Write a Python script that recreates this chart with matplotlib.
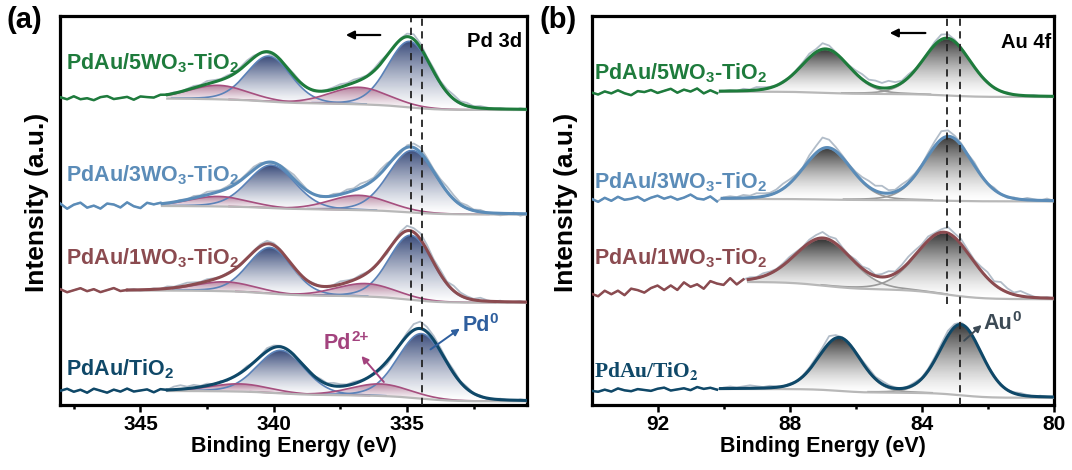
import numpy as np
import matplotlib
matplotlib.use("Agg")
import matplotlib.pyplot as plt
from matplotlib.colors import LinearSegmentedColormap
from matplotlib.patches import PathPatch

plt.rcParams['font.family'] = ['Liberation Sans', 'DejaVu Sans']
plt.rcParams['font.weight'] = 'bold'
plt.rcParams['mathtext.fontset'] = 'custom'
plt.rcParams['mathtext.rm'] = 'Liberation Sans:bold'
plt.rcParams['mathtext.bf'] = 'Liberation Sans:bold'

# ---------------- data ----------------
labels = [r'PdAu/TiO$_\mathbf{2}$', r'PdAu/1WO$_\mathbf{3}$-TiO$_\mathbf{2}$',
          r'PdAu/3WO$_\mathbf{3}$-TiO$_\mathbf{2}$', r'PdAu/5WO$_\mathbf{3}$-TiO$_\mathbf{2}$']
colors = ['#0f4868', '#8b4b50', '#5b8cb8', '#1e7b3c']

# Pd 3d panel (binding energy eV, intensity a.u.)
pd_range = (348.0, 330.5)
pd_fit_hi = [344.0, 345.5, 344.2, 344.0]
pd_far = [14.0, 114.5, 199.0, 306.4]
pd_bg_hi = [14.0, 114.5, 199.0, 306.4]
pd_bg_lo = [3.7, 102.3, 190.5, 295.0]
pd_split = 5.28
pd0_pos = [334.45, 334.85, 334.80, 334.90]
pd0_h52 = [65.0, 64.5, 62.0, 66.0]
pd0_h32 = [43.0, 46.0, 43.0, 45.5]
pd0_fwhm = [2.1, 1.95, 2.1, 1.95]
pd2_pos = [336.0, 336.55, 336.8, 336.8]
pd2_h52 = [12.0, 13.0, 14.8, 17.0]
pd2_h32 = [7.7, 9.4, 10.0, 14.0]
pd2_fwhm = [2.6, 2.6, 2.6, 2.6]
pd_noise = [
    [0, 2, -1, 1, -2, 2, 0, -2, 1, -1, 2, -1, 0, 1, -2, 1, 0,
     3, 4, 2, 3, 1, 2, 0, 1, -1, 0,
     1, 2, 0, 1, 3, 2, 1, -1, -2, 0,
     1, 0, 2, 1, 3, 2, 1, 2, 1, 0,
     -1, -2, -3, -2, 1, 3, 6, 7, 5, 4,
     3, 2, 3, 1, 2, 0, 1, -1, 0, 1,
     0, -1, 1, 0],
    [1, -2, 0, 2, -1, 1, -2, 0, 2, -1,
     0, 1, -1, 0, 1, 0, 2,
     1, 2, 3, 2, 1, 2, 1, 0, 1, 0,
     -1, 0, 1, 2, 3, 2, 1, 0, -1, -2,
     0, 1, 0, -1, 1, 3, 2, 1, 2, 1,
     -1, 0, -2, 1, 3, 5, 4, 6, 5, 3,
     4, 2, 5, 3, 2, 1, 3, 1, 0, 1,
     -1, 0, 1, -1],
    [2, -3, 1, 3, -2, 0, -3, 2, 1, -2, 3, -1, -3, 2, 0,
     1, -1,
     0, 1, 0, 2, 1, 3, 2, 1, 2, 3,
     1, 2, 3, 2, 0, -1, 1, 2, 4, 3,
     1, 0, -1, 0, 2, 1, 3, 2, 4, 3,
     2, 4, 3, -1, -2, 2, 4, 5, 3, 2,
     3, 5, 4, 2, 3, 1, 2, 0, -1, -2,
     -1, 1, -2, 0],
    [1, -1, 2, -1, 0, -2, 1, 2, -1, 0, 1, -2, 1, 0, -1, 1, 0,
     1, 0, 1, 2, 1, 3, 2, 1, 2, 1,
     2, 3, 2, 0, -1, -2, 0, 1, 2, 1,
     0, -1, 0, 1, 2, 3, 2, 3, 2, 1,
     2, 3, 1, -1, 1, 3, 5, 4, 2, 3,
     2, 3, 4, 2, 3, 1, 2, 1, 0, 1,
     0, -1, 1, 0],
]

# Au 4f panel
au_range = (94.0, 80.0)
au_fit_hi = [90.1, 89.26, 90.05, 90.1]
au_far = [14.0, 111.0, 206.0, 312.3]
au_bg_hi = [16.0, 123.0, 206.0, 313.3]
au_bg_lo = [7.2, 105.8, 203.6, 308.0]
au_split = 3.68
au_pos = [82.81, 83.29, 83.18, 83.23]
au_h72 = [70.5, 61.5, 64.0, 57.0]
au_h52 = [53.0, 47.0, 51.5, 43.5]
au_fwhm = [1.5, 2.0, 1.7, 1.7]
au_noise = [
    [0, -1, 1, -1, 2, 0, -1, 1, 0, -1, 1, 2, -1, 0, 1, -1, 2, 0, 1, -1,
     1, 2, 1, 2, 3, 2, 1, 2, 1, 0,
     1, 0, 1, 2, 3, 4, 7, 3, 1, 0,
     1, 2, 3, 2, 3, 2, 1, 0, 1, 2,
     1, 2, 3, 4, 5, 3, 2, 1, 0, 1,
     0, 1, -1, 0, 1, 2, 1, 0, 1, 0, -1],
    [0, -3, 2, -2, 1, -4, 2, 0, -3, 1, 3, -2, 2, -3, 4, -1, 1, -4, 3, 0, -2, 4, -3, 1,
     2, 1, 3, 2, 1, 2,
     3, 2, 1, 3, 4, 6, 3, 5, 2, 1,
     3, 2, 4, 1, 3, 5, 2, 4, 6, 5,
     3, 4, 2, 3, 6, 4, 5, 3, 2, 4,
     6, 3, 7, 4, 2, 5, 3, 1, 0, 1, 0],
    [0, -3, 1, -2, 2, -1, 0, 2, -2, 1, 3, 0, 2, -1, 1, 4, 0, -1, 2, -3,
     1, 2, 1, 3, 2, 4, 3, 2, 3, 5,
     4, 2, 1, 5, 7, 11, 8, 4, 2, 1,
     2, 4, 6, 5, 7, 3, 2, 4, 3, 2,
     1, 3, 5, 8, 6, 3, 2, 1, 3, 1,
     0, 2, 0, -1, 1, 0, 2, 1, 0, 2, 0],
    [0, -2, 1, -1, 2, -1, -3, 1, 0, 2, -1, 1, 3, -1, 2, 0, 3, -2, 1, -2,
     0, 1, 0, 2, 1, 3, 2, 1, 0, 1,
     0, 1, 2, 4, 3, 6, 4, 1, 0, 1,
     3, 5, 4, 6, 5, 7, 4, 2, 3, 1,
     0, 1, 3, 5, 4, 2, 1, 0, -1, 0,
     1, -1, 0, 1, 0, -1, 0, 1, 0, -1, 0],
]

# ---------------- helpers ----------------
def pv(E, c, h, w, eta=0.15):
    x = (E - c) / w
    return h * ((1 - eta) * np.exp(-4 * np.log(2) * x ** 2) + eta / (1 + 4 * x ** 2))


def baseline(E, total, fit_hi, far, hi, lo, Emax):
    mask = E <= fit_hi
    cum = np.cumsum(np.where(mask, total, 0.0))
    S = cum / cum[mask][-1]
    bg = lo + (hi - lo) * np.clip(S, 0, 1)
    left = hi + (far - hi) * (E - fit_hi) / (Emax - fit_hi)
    return np.where(mask, bg, left)


def gradient_fill(ax, x, y1, y2, color, alpha=0.95, power=1.3):
    poly = ax.fill_between(x, y1, y2, facecolor='none', edgecolor='none')
    path = poly.get_paths()[0]
    patch = PathPatch(path, transform=ax.transData, facecolor='none', edgecolor='none')
    ax.add_patch(patch)
    cmap = LinearSegmentedColormap.from_list('g', ['#ffffff', color])
    grad = np.linspace(0, 1, 256).reshape(-1, 1) ** power
    im = ax.imshow(grad, cmap=cmap, aspect='auto', origin='lower', alpha=alpha,
                   extent=[x.min(), x.max(), y1.min(), y2.max()], zorder=1)
    im.set_clip_path(patch)


def draw_panel(ax, rng, n, fit_hi, far, bg_hi, bg_lo, comps, noise, fill_colors,
               edge_colors, power):
    Emax, Emin = rng
    Ef = np.linspace(Emin, Emax, 1600)
    Ec = np.linspace(Emax, Emin, len(noise[0]))
    for i in range(n):
        parts = [pv(Ef, *c) for c in comps[i]]
        total = np.sum(parts, axis=0)
        bg = baseline(Ef, total, fit_hi[i], far[i], bg_hi[i], bg_lo[i], Emax)
        model = bg + total
        raw = np.interp(Ec, Ef, model) + np.array(noise[i], float)
        fm = Ef <= fit_hi[i]
        for k, p in enumerate(parts):
            m = fm & (p > 0.01 * p.max())
            gradient_fill(ax, Ef[m], bg[m], bg[m] + p[m], fill_colors[k], power=power)
            ax.plot(Ef[m], bg[m] + p[m], color=edge_colors[k], lw=1.2, zorder=2)
        ax.plot(Ec, raw, color='#aab6c3', lw=1.3, zorder=3, alpha=0.9)
        ax.plot(Ef[fm], bg[fm], color='#b8b8b8', lw=1.6, zorder=3)
        rm = Ec >= fit_hi[i]
        ax.plot(Ec[rm], raw[rm], color=colors[i], lw=1.8, zorder=4)
        ax.plot(Ef[fm], model[fm], color=colors[i], lw=2.2, zorder=5)


def style(ax, rng, major, minor):
    ax.set_xlim(*rng)
    ax.set_ylim(0, 388.5)
    ax.set_yticks([])
    ax.set_xticks(major)
    ax.set_xticks(minor, minor=True)
    for s in ax.spines.values():
        s.set_linewidth(2.3)
    ax.tick_params(axis='x', which='major', direction='out', length=5, width=1.8,
                   labelsize=15, pad=2)
    ax.tick_params(axis='x', which='minor', direction='out', length=3, width=1.8)
    for t in ax.get_xticklabels():
        t.set_fontweight('bold')
    ax.set_xlabel('Binding Energy (eV)', fontsize=15.5, fontweight='bold', labelpad=2)


fig = plt.figure(figsize=(10.72, 4.70), dpi=100)
axa = fig.add_axes([0.0564, 0.1383, 0.4352, 0.8266])
axb = fig.add_axes([0.5518, 0.1383, 0.4310, 0.8266])

# ---- panel (a)
pd_comps = []
for i in range(4):
    pd_comps.append([
        (pd0_pos[i], pd0_h52[i], pd0_fwhm[i]),
        (pd0_pos[i] + pd_split, pd0_h32[i], pd0_fwhm[i]),
        (pd2_pos[i], pd2_h52[i], pd2_fwhm[i]),
        (pd2_pos[i] + pd_split, pd2_h32[i], pd2_fwhm[i]),
    ])
draw_panel(axa, pd_range, 4, pd_fit_hi, pd_far, pd_bg_hi, pd_bg_lo, pd_comps, pd_noise,
           ['#2f4274', '#2f4274', '#b07a98', '#b07a98'],
           ['#5b82b8', '#5b82b8', '#a64f7f', '#a64f7f'], 1.3)
style(axa, pd_range, [345, 340, 335], [347.5, 342.5, 337.5, 332.5])

# ---- panel (b)
au_comps = []
for i in range(4):
    au_comps.append([
        (au_pos[i], au_h72[i], au_fwhm[i]),
        (au_pos[i] + au_split, au_h52[i], au_fwhm[i]),
    ])
draw_panel(axb, au_range, 4, au_fit_hi, au_far, au_bg_hi, au_bg_lo, au_comps, au_noise,
           ['#2a2a2a', '#2a2a2a'], ['#9a9a9a', '#9a9a9a'], 1.5)
style(axb, au_range, [92, 88, 84, 80], [90, 86, 82])

# y labels
fig.text(37 / 1072, 1 - 202 / 470, 'Intensity (a.u.)', rotation=90, ha='center', va='center',
         fontsize=19, fontweight='bold')
fig.text(566 / 1072, 1 - 202 / 470, 'Intensity (a.u.)', rotation=90, ha='center', va='center',
         fontsize=19, fontweight='bold')

# dashed reference lines
for ax, (x1, x2), yend in [(axa, (334.85, 334.42), 92), (axb, (83.22, 82.85), 101)]:
    ax.plot([x1, x1], [yend, 387], ls=(0, (4, 3)), color='#222222', lw=1.3, zorder=6)
    ax.plot([x2, x2], [0, 387], ls=(0, (4, 3)), color='#222222', lw=1.3, zorder=6)

# shift arrows
axa.annotate('', xy=(337.4, 370), xytext=(335.9, 370),
             arrowprops=dict(arrowstyle='-|>', color='black', lw=1.6, mutation_scale=12))
axb.annotate('', xy=(85.05, 372), xytext=(83.8, 372),
             arrowprops=dict(arrowstyle='-|>', color='black', lw=1.6, mutation_scale=12))

# sample labels
pd_lab_y = [30, 140.4, 223.5, 336.0]
au_lab_y = [28, 140.4, 216.4, 325.4]
for i in range(4):
    axa.text(347.8, pd_lab_y[i], labels[i], color=colors[i], fontsize=15.5,
             fontweight='bold', ha='left', va='baseline', zorder=7)
    if i == 0:
        axb.text(93.92, au_lab_y[i], r'PdAu/TiO$_\mathbf{2}$', color=colors[i], fontsize=15.5,
                 fontweight='bold', family='Liberation Serif', math_fontfamily='stix',
                 ha='left', va='baseline', zorder=7)
    else:
        axb.text(93.92, au_lab_y[i], labels[i], color=colors[i], fontsize=15.5,
                 fontweight='bold', ha='left', va='baseline', zorder=7)

# core level titles
axa.text(0.989, 0.922, 'Pd 3d', transform=axa.transAxes, ha='right', va='baseline',
         fontsize=14.5, fontweight='bold')
axb.text(0.994, 0.918, 'Au 4f', transform=axb.transAxes, ha='right', va='baseline',
         fontsize=14.5, fontweight='bold')

# species annotations
def species(ax, x, y, base, sup, color):
    t = ax.text(x, y, base, color=color, fontsize=15.5, fontweight='bold',
                ha='center', va='center', zorder=8)
    ax.annotate(sup, xy=(0.99, 0.5), xycoords=t, ha='left', va='bottom', color=color,
                fontsize=11, fontweight='bold', zorder=8)

species(axa, 337.6, 61, 'Pd', '2+', '#a3437e')
axa.annotate('', xy=(336.71, 49), xytext=(335.87, 23),
             arrowprops=dict(arrowstyle='-|>', color='#a3437e', lw=1.4, mutation_scale=10,
                             shrinkA=0, shrinkB=0), zorder=8)
species(axa, 332.4, 79, 'Pd', '0', '#2f5f9e')
axa.annotate('', xy=(333.02, 76.4), xytext=(334.12, 55.6),
             arrowprops=dict(arrowstyle='-|>', color='#2f5f9e', lw=1.4, mutation_scale=10,
                             shrinkA=0, shrinkB=0), zorder=8)
species(axb, 81.68, 81, 'Au', '0', '#3c4a55')
axb.annotate('', xy=(82.18, 80), xytext=(82.71, 64.3),
             arrowprops=dict(arrowstyle='-|>', color='#3c4a55', lw=1.4, mutation_scale=10,
                             shrinkA=0, shrinkB=0), zorder=8)

# panel letters
fig.text(0.0065, 0.987, '(a)', fontsize=21, fontweight='bold', ha='left', va='top')
fig.text(0.503, 0.987, '(b)', fontsize=21, fontweight='bold', ha='left', va='top')

fig.savefig('out.png', dpi=100)
